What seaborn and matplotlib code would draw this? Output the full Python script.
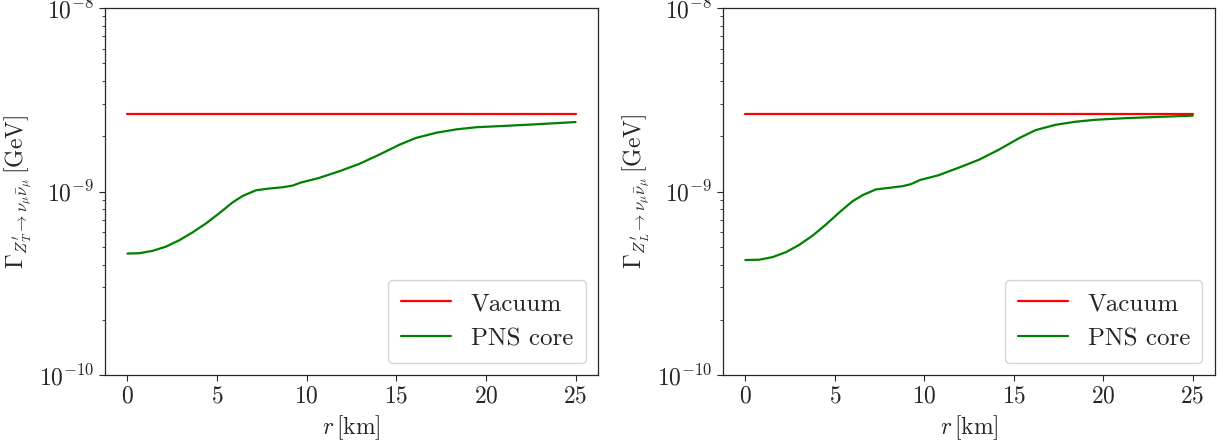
import numpy as np
import pandas as pd
import matplotlib
matplotlib.use("Agg")
import matplotlib.pyplot as plt
import seaborn as sns

# ---- data ----
r_T = [0.0, 0.67, 1.41, 2.16, 2.90, 3.65, 4.39, 5.13, 5.88, 6.44, 7.18, 7.92, 8.67,
       9.23, 9.65, 10.66, 11.83, 12.95, 14.06, 15.18, 16.11, 17.23, 18.34, 19.46,
       21.13, 22.99, 25.0]
core_T = [4.59e-10, 4.61e-10, 4.75e-10, 5.01e-10, 5.43e-10, 6.00e-10, 6.71e-10, 7.62e-10,
          8.74e-10, 9.47e-10, 1.016e-9, 1.038e-9, 1.055e-9, 1.078e-9, 1.117e-9, 1.183e-9,
          1.29e-9, 1.416e-9, 1.59e-9, 1.80e-9, 1.96e-9, 2.09e-9, 2.18e-9, 2.24e-9,
          2.28e-9, 2.33e-9, 2.39e-9]
r_L = [0.0, 0.78, 1.52, 2.27, 3.01, 3.76, 4.50, 5.25, 5.99, 6.55, 7.29, 8.04, 8.78,
       9.25, 9.76, 10.78, 11.94, 13.06, 14.17, 15.29, 16.22, 17.34, 18.45, 19.57,
       21.24, 23.10, 25.0]
core_L = [4.23e-10, 4.25e-10, 4.39e-10, 4.67e-10, 5.12e-10, 5.75e-10, 6.60e-10, 7.69e-10,
          8.85e-10, 9.55e-10, 1.026e-9, 1.047e-9, 1.069e-9, 1.096e-9, 1.155e-9, 1.225e-9,
          1.35e-9, 1.49e-9, 1.69e-9, 1.95e-9, 2.16e-9, 2.31e-9, 2.40e-9, 2.46e-9,
          2.51e-9, 2.55e-9, 2.59e-9]
vacuum_T = 2.66e-9
vacuum_L = 2.66e-9
series_labels = ["Vacuum", "PNS core"]
ylabels = [r"$\Gamma_{Z^\prime_T\to\nu_\mu\bar{\nu}_\mu}\,[\mathrm{GeV}]$",
           r"$\Gamma_{Z^\prime_L\to\nu_\mu\bar{\nu}_\mu}\,[\mathrm{GeV}]$"]
xlabel = r"$r\,[\mathrm{km}]$"

sns.set_style("ticks")
plt.rcParams["font.family"] = ["cmr10", "DejaVu Serif"]
plt.rcParams["mathtext.fontset"] = "cm"
plt.rcParams["axes.formatter.use_mathtext"] = True
plt.rcParams["axes.unicode_minus"] = False

fig = plt.figure(figsize=(12.25, 4.44), dpi=100)
ax1 = fig.add_axes([105/1225, 1-375/444, (598-105)/1225, (375-8)/444])
ax2 = fig.add_axes([723/1225, 1-375/444, (1215-723)/1225, (375-8)/444])

for ax, r, core, vac, yl in [(ax1, r_T, core_T, vacuum_T, ylabels[0]),
                              (ax2, r_L, core_L, vacuum_L, ylabels[1])]:
    df = pd.DataFrame({
        "r": list(r) + list(r),
        "val": [vac] * len(r) + list(core),
        "kind": [series_labels[0]] * len(r) + [series_labels[1]] * len(r),
    })
    sns.lineplot(data=df, x="r", y="val", hue="kind",
                 palette={series_labels[0]: "red", series_labels[1]: "green"},
                 ax=ax, linewidth=1.6, estimator=None, legend=False)
    ax.set_yscale("log")
    ax.set_ylim(1e-10, 1e-8)
    ax.set_xlim(-1.25, 26.25)
    ax.set_xticks([0, 5, 10, 15, 20, 25])
    ax.set_xlabel(xlabel, fontsize=17)
    ax.set_ylabel(yl, fontsize=17)
    ax.tick_params(axis="both", which="major", labelsize=17, direction="out", length=4)
    ax.tick_params(axis="y", which="minor", length=2)
    for s in ax.spines.values():
        s.set_visible(True)
        s.set_linewidth(0.9)
    leg = ax.legend(ax.get_lines()[:2], series_labels, loc="lower right", fontsize=18,
                    frameon=True, fancybox=True, handlelength=2.0, borderpad=0.5,
                    labelspacing=0.5)
    leg.get_frame().set_edgecolor("#cccccc")

fig.savefig("out.png", dpi=100)
